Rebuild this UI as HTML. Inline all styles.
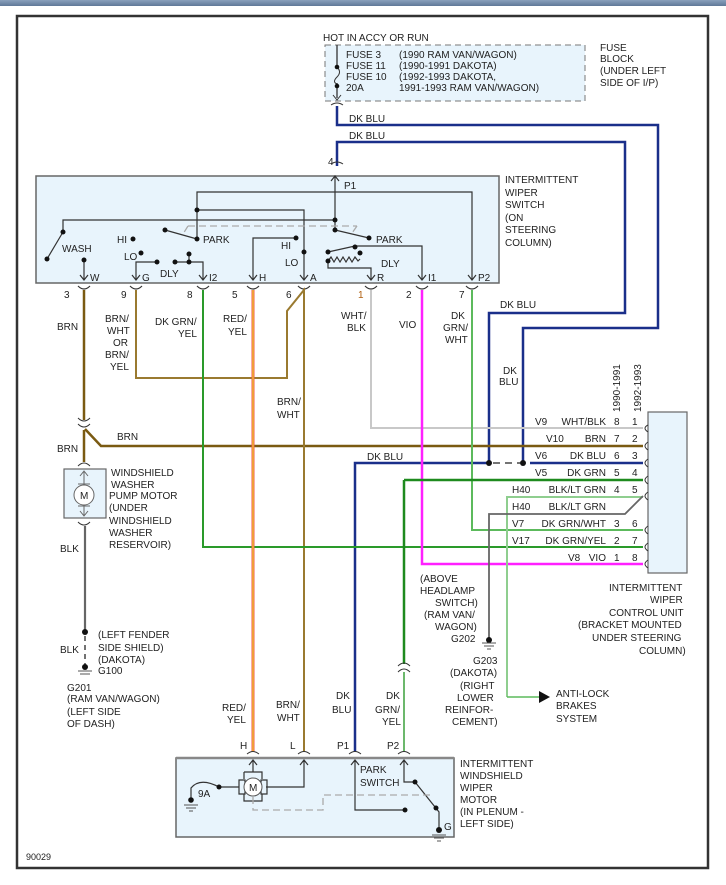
<!DOCTYPE html>
<html><head><meta charset="utf-8"><style>
html,body{margin:0;padding:0;background:#fff;}
svg{display:block;}
text{font-family:"Liberation Sans",sans-serif;font-size:10px;fill:#222;}
.e{text-anchor:end;}
</style></head><body>
<svg width="726" height="885" viewBox="0 0 726 885" xmlns="http://www.w3.org/2000/svg">
<defs><linearGradient id="tb" x1="0" y1="0" x2="0" y2="1"><stop offset="0" stop-color="#8aa0bc"/><stop offset="1" stop-color="#5f7898"/></linearGradient></defs>
<rect x="0" y="0" width="726" height="6" fill="url(#tb)"/>
<rect x="17" y="16" width="691" height="852" fill="none" stroke="#333" stroke-width="2.5"/>

<!-- fuse block -->
<text x="323" y="41">HOT IN ACCY OR RUN</text>
<rect x="325" y="45" width="260" height="56" fill="#e8f4fc" stroke="#777" stroke-dasharray="6,4"/>
<path d="M337 45 V65 M337 83 V98" stroke="#333" stroke-width="1.3" fill="none"/>
<path d="M337 67 Q342 72 337 77 Q332 82 337 84" stroke="#333" fill="none"/>
<circle cx="337" cy="67" r="2.3" fill="#111"/><circle cx="337" cy="86" r="2.3" fill="#111"/>
<path d="M333 95 L337 100 L341 95" stroke="#333" fill="none"/>
<path d="M331 105 Q337 101 343 105" stroke="#333" fill="none"/>
<text x="346" y="58">FUSE 3</text><text x="346" y="69">FUSE 11</text><text x="346" y="80">FUSE 10</text><text x="346" y="91">20A</text>
<text x="399" y="58">(1990 RAM VAN/WAGON)</text><text x="399" y="69">(1990-1991 DAKOTA)</text><text x="399" y="80">(1992-1993 DAKOTA,</text><text x="399" y="91">1991-1993 RAM VAN/WAGON)</text>
<text x="600" y="51">FUSE</text><text x="600" y="62">BLOCK</text><text x="600" y="74">(UNDER LEFT</text><text x="600" y="86">SIDE OF I/P)</text>

<!-- DK BLU feed wires -->
<g stroke="#1a2f8a" stroke-width="2.5" fill="none">
<path d="M337 106 V125 H658 V328 H523 V463"/>
<path d="M337 166 V142 H625 V313 H489 V463"/>
<path d="M355 752 V463 H489"/>
<path d="M530 463 H643"/>
</g>
<path d="M493 463 H520" stroke="#222" stroke-width="1.3" stroke-dasharray="7,5"/>
<circle cx="489" cy="463" r="3" fill="#111"/><circle cx="523" cy="463" r="3" fill="#111"/>
<text x="349" y="122">DK BLU</text><text x="349" y="139">DK BLU</text>
<text x="500" y="308">DK BLU</text><text x="503" y="374">DK</text><text x="499" y="385">BLU</text>
<text x="367" y="460">DK BLU</text>
<text x="328" y="165">4</text>
<path d="M331 164 Q337 160 343 164" stroke="#333" fill="none"/>

<!-- switch box -->
<rect x="36" y="176" width="463" height="107" fill="#e8f4fc" stroke="#666" stroke-width="1.5"/>
<text x="505" y="183">INTERMITTENT</text><text x="505" y="196">WIPER</text><text x="505" y="208">SWITCH</text><text x="505" y="221">(ON</text><text x="505" y="233">STEERING</text><text x="505" y="246">COLUMN)</text>
<g stroke="#333" stroke-width="1.2" fill="none">
<path d="M335 176 V220 H63 V232 M63 232 L47 259"/>
<path d="M331 181 L335 176 L339 181"/>
<path d="M197 239 V192 H472 V280"/>
<path d="M197 210 H304 V280"/>
<path d="M165 230 L197 239"/>
<path d="M335 220 V230 L369 238"/>
<path d="M84 262 V280"/>
<path d="M155 262 H136 V280"/>
<path d="M175 262 H203 V280 M189 254 V262"/>
<path d="M296 238 H253 V280"/>
<path d="M328 252 L355 246 H422 V280"/>
<path d="M328 261 l3 -4 l3 5 l3 -5 l3 5 l3 -5 l3 5 l3 -5 l3 5 l3 -5 l3 4 l2 -2"/>
<path d="M328 261 V268 H371 V280"/>
</g>
<path d="M188 226 H357 M188 226 L183 234 M357 226 L352 233" stroke="#aaa" stroke-width="1.3" stroke-dasharray="7,4" fill="none"/>
<g fill="#111">
<circle cx="335" cy="220" r="2.5"/><circle cx="63" cy="232" r="2.5"/><circle cx="47" cy="259" r="2.5"/>
<circle cx="197" cy="210" r="2.5"/><circle cx="197" cy="239" r="2.5"/><circle cx="165" cy="230" r="2.5"/>
<circle cx="335" cy="230" r="2.5"/><circle cx="369" cy="238" r="2.5"/>
<circle cx="84" cy="260" r="2.5"/><circle cx="133" cy="239" r="2.5"/><circle cx="141" cy="253" r="2.5"/>
<circle cx="157" cy="262" r="2.5"/><circle cx="175" cy="262" r="2.5"/><circle cx="189" cy="254" r="2.5"/><circle cx="189" cy="262" r="2.5"/>
<circle cx="296" cy="238" r="2.5"/><circle cx="304" cy="252" r="2.5"/>
<circle cx="328" cy="252" r="2.5"/><circle cx="355" cy="247" r="2.5"/><circle cx="360" cy="253" r="2.5"/><circle cx="328" cy="261" r="2.5"/>
</g>
<text x="344" y="189">P1</text>
<text x="62" y="252">WASH</text><text x="117" y="243">HI</text><text x="124" y="260">LO</text><text x="160" y="277">DLY</text>
<text x="203" y="243">PARK</text><text x="376" y="243">PARK</text><text x="281" y="249">HI</text><text x="285" y="266">LO</text><text x="381" y="267">DLY</text>
<g stroke="#333" stroke-width="1.2" fill="none">
<path d="M80 275 L84 280 L88 275 M132 275 L136 280 L140 275 M199 275 L203 280 L207 275 M249 275 L253 280 L257 275 M300 275 L304 280 L308 275 M367 275 L371 280 L375 275 M418 275 L422 280 L426 275 M468 275 L472 280 L476 275"/>
<path d="M78 286 Q84 292 90 286 M130 286 Q136 292 142 286 M197 286 Q203 292 209 286 M247 286 Q253 292 259 286 M298 286 Q304 292 310 286 M365 286 Q371 292 377 286 M416 286 Q422 292 428 286 M466 286 Q472 292 478 286"/>
</g>
<text x="90" y="281">W</text><text x="142" y="281">G</text><text x="209" y="281">I2</text><text x="259" y="281">H</text><text x="310" y="281">A</text><text x="377" y="281">R</text><text x="428" y="281">I1</text><text x="478" y="281">P2</text>
<text x="64" y="298">3</text><text x="121" y="298">9</text><text x="187" y="298">8</text><text x="232" y="298">5</text><text x="286" y="298">6</text><text x="358" y="298" style="fill:#b06010">1</text><text x="406" y="298">2</text><text x="459" y="298">7</text>

<!-- wires -->
<path d="M84 290 V420 M85 429 L101 446 H643" stroke="#7a5a12" stroke-width="2.5" fill="none"/>
<path d="M136 290 V378 H287 V311 L304 290 V752" stroke="#9a7a30" stroke-width="2" fill="none"/>
<path d="M203 290 V547 H643" stroke="#2a9a2a" stroke-width="2" fill="none"/>
<path d="M253 290 V752" stroke="#f05a50" stroke-width="3" fill="none"/>
<path d="M253 290 V752" stroke="#f0e020" stroke-width="1" fill="none"/>
<path d="M371 290 V428 H643" stroke="#c8c8c8" stroke-width="2" fill="none"/>
<path d="M422 290 V564 H643" stroke="#ff20ff" stroke-width="2.5" fill="none"/>
<path d="M472 290 V530 H643" stroke="#5cba5c" stroke-width="2" fill="none"/>
<path d="M404 480 H643 M404 480 V664" stroke="#1e8a1e" stroke-width="2.5" fill="none"/>
<path d="M404 672 V752" stroke="#3aa03a" stroke-width="1.5" fill="none"/>
<path d="M398 666 Q404 660 410 666 M398 672 Q404 666 410 672" stroke="#333" fill="none"/>
<path d="M507 697 V497 H643" stroke="#8fce8f" stroke-width="2" fill="none"/>
<path d="M489 638 V514 H625 L643 496" stroke="#666" stroke-width="1.8" fill="none"/>
<path d="M507 697 H540" stroke="#5cba5c" stroke-width="1.5" fill="none"/>
<path d="M539 691 L550 697 L539 703 Z" fill="#111"/>
<text x="556" y="697">ANTI-LOCK</text><text x="556" y="709">BRAKES</text><text x="556" y="722">SYSTEM</text>
<circle cx="489" cy="640" r="3" fill="#111"/>
<path d="M482 643 H496 M484 646 H494 M487 649 H491" stroke="#555" fill="none"/>

<text x="57" y="330">BRN</text>
<text x="105" y="322">BRN/</text><text x="107" y="334">WHT</text><text x="113" y="346">OR</text><text x="105" y="358">BRN/</text><text x="110" y="370">YEL</text>
<text x="155" y="325">DK GRN/</text><text x="178" y="337">YEL</text>
<text x="223" y="322">RED/</text><text x="228" y="335">YEL</text>
<text x="277" y="405">BRN/</text><text x="277" y="418">WHT</text>
<text x="341" y="319">WHT/</text><text x="347" y="331">BLK</text>
<text x="399" y="328">VIO</text>
<text x="451" y="319">DK</text><text x="443" y="331">GRN/</text><text x="445" y="343">WHT</text>

<!-- control unit -->
<rect x="648" y="412" width="39" height="161" fill="#e8f4fc" stroke="#666" stroke-width="1.2"/>
<g stroke="#333" fill="none">
<path d="M648 425 Q642 428 648 432 M648 442 Q642 446 648 450 M648 459 Q642 463 648 467 M648 476 Q642 480 648 484 M648 492 Q642 496 648 500 M648 526 Q642 530 648 534 M648 543 Q642 547 648 551 M648 560 Q642 564 648 568"/>
</g>
<text x="0" y="0" transform="translate(620,412) rotate(-90)">1990-1991</text>
<text x="0" y="0" transform="translate(641,412) rotate(-90)">1992-1993</text>
<g>
<text x="535" y="425">V9</text><text class="e" x="606" y="425">WHT/BLK</text><text x="614" y="425">8</text><text x="632" y="425">1</text>
<text x="546" y="442">V10</text><text class="e" x="606" y="442">BRN</text><text x="614" y="442">7</text><text x="632" y="442">2</text>
<text x="535" y="459">V6</text><text class="e" x="606" y="459">DK BLU</text><text x="614" y="459">6</text><text x="632" y="459">3</text>
<text x="535" y="476">V5</text><text class="e" x="606" y="476">DK GRN</text><text x="614" y="476">5</text><text x="632" y="476">4</text>
<text x="512" y="493">H40</text><text class="e" x="606" y="493">BLK/LT GRN</text><text x="614" y="493">4</text><text x="632" y="493">5</text>
<text x="512" y="510">H40</text><text class="e" x="606" y="510">BLK/LT GRN</text>
<text x="512" y="527">V7</text><text class="e" x="606" y="527">DK GRN/WHT</text><text x="614" y="527">3</text><text x="632" y="527">6</text>
<text x="512" y="544">V17</text><text class="e" x="606" y="544">DK GRN/YEL</text><text x="614" y="544">2</text><text x="632" y="544">7</text>
<text x="568" y="561">V8</text><text class="e" x="606" y="561">VIO</text><text x="614" y="561">1</text><text x="632" y="561">8</text>
</g>
<text x="609" y="591">INTERMITTENT</text><text x="650" y="603">WIPER</text><text x="609" y="616">CONTROL UNIT</text><text x="578" y="628">(BRACKET MOUNTED</text><text x="592" y="641">UNDER STEERING</text><text x="639" y="654">COLUMN)</text>
<text x="420" y="582">(ABOVE</text><text x="420" y="594">HEADLAMP</text><text x="435" y="606">SWITCH)</text><text x="424" y="618">(RAM VAN/</text><text x="435" y="630">WAGON)</text><text x="451" y="642">G202</text>
<text x="473" y="664">G203</text><text x="450" y="676">(DAKOTA)</text><text x="460" y="689">(RIGHT</text><text x="457" y="701">LOWER</text><text x="445" y="713">REINFOR-</text><text x="452" y="725">CEMENT)</text>

<!-- BRN label & washer -->
<text x="57" y="452">BRN</text><text x="117" y="440">BRN</text>
<path d="M78 418 Q84 424 90 418 M78 424 Q84 430 90 424" stroke="#333" fill="none"/>
<path d="M84 430 V462" stroke="#7a5a12" stroke-width="2.5"/>
<path d="M78 466 Q84 460 90 466" stroke="#333" fill="none"/>
<rect x="64" y="469" width="42" height="49" fill="#e8f4fc" stroke="#666" stroke-width="1.2"/>
<circle cx="84" cy="495" r="10" fill="#fff" stroke="#666"/><text x="80" y="499">M</text>
<path d="M84 472 V485 M84 505 V516 M80 476 L84 471 L88 476 M80 511 L84 516 L88 511 M78 484 h12 M78 506 h12" stroke="#666" fill="none"/>
<text x="111" y="476">WINDSHIELD</text><text x="111" y="488">WASHER</text><text x="109" y="499">PUMP MOTOR</text><text x="109" y="511">(UNDER</text><text x="109" y="524">WINDSHIELD</text><text x="109" y="536">WASHER</text><text x="109" y="548">RESERVOIR)</text>
<path d="M78 522 Q84 528 90 522" stroke="#333" fill="none"/>
<path d="M85 526 V632" stroke="#666" stroke-width="2.2"/>
<path d="M85 636 V665" stroke="#444" stroke-width="1.5" stroke-dasharray="5,4"/>
<circle cx="85" cy="632" r="3" fill="#111"/><circle cx="85" cy="667" r="3" fill="#111"/>
<path d="M78 671 H92 M80 674 H90" stroke="#555" fill="none"/>
<text x="60" y="552">BLK</text><text x="60" y="653">BLK</text>
<text x="98" y="638">(LEFT FENDER</text><text x="98" y="651">SIDE SHIELD)</text><text x="98" y="663">(DAKOTA)</text><text x="98" y="674">G100</text>
<text x="67" y="691">G201</text><text x="67" y="702">(RAM VAN/WAGON)</text><text x="67" y="715">(LEFT SIDE</text><text x="67" y="727">OF DASH)</text>

<!-- motor labels -->
<text x="222" y="711">RED/</text><text x="227" y="723">YEL</text>
<text x="276" y="708">BRN/</text><text x="277" y="721">WHT</text>
<text x="336" y="699">DK</text><text x="332" y="713">BLU</text>
<text x="386" y="699">DK</text><text x="375" y="713">GRN/</text><text x="382" y="725">YEL</text>
<text x="240" y="749">H</text><text x="290" y="749">L</text><text x="337" y="749">P1</text><text x="387" y="749">P2</text>
<path d="M247 754 Q253 749 259 754 M298 754 Q304 749 310 754 M349 754 Q355 749 361 754 M398 754 Q404 749 410 754" stroke="#333" fill="none"/>

<!-- wiper motor box -->
<rect x="176" y="758" width="278" height="79" fill="#e8f4fc" stroke="#666" stroke-width="1.5"/>
<path d="M176 758 H454" stroke="#888" stroke-width="2.5"/>
<g stroke="#333" stroke-width="1.2" fill="none">
<path d="M253 760 V772 M249 765 L253 760 L257 765"/>
<path d="M304 760 V787 H266 M300 765 L304 760 L308 765"/>
<path d="M355 760 V810 H405 M351 765 L355 760 L359 765"/>
<path d="M404 760 V782 H415 L439 812 V830 M400 765 L404 760 L408 765"/>
<path d="M191 799 V788 Q200 777 219 787 H239"/>
<path d="M244 772 h18 v7 M244 772 v7 M239 780 h6 v14 h-6 z M261 780 h6 v14 h-6 z M244 794 v7 h18 v-7"/>
</g>
<circle cx="253" cy="787" r="9" fill="#fff" stroke="#555"/><text x="249" y="791">M</text>
<path d="M253 797 V810 H323 V795 H432" stroke="#aaa" stroke-width="1.3" stroke-dasharray="7,4" fill="none"/>
<g fill="#111"><circle cx="191" cy="800" r="2.8"/><circle cx="219" cy="787" r="2.5"/><circle cx="405" cy="810" r="2.5"/><circle cx="415" cy="782" r="2.5"/><circle cx="436" cy="808" r="2.5"/><circle cx="439" cy="830" r="3"/></g>
<path d="M184 805 H198 M186 808 H196 M189 811 H193 M432 835 H446 M434 838 H444 M437 841 H441" stroke="#555" fill="none"/>
<text x="198" y="797">9A</text>
<text x="360" y="773">PARK</text><text x="360" y="786">SWITCH</text>
<text x="444" y="830">G</text>
<text x="460" y="767">INTERMITTENT</text><text x="460" y="779">WINDSHIELD</text><text x="460" y="791">WIPER</text><text x="460" y="803">MOTOR</text><text x="460" y="815">(IN PLENUM -</text><text x="460" y="827">LEFT SIDE)</text>
<text x="26" y="860" style="font-size:9px">90029</text>
</svg>
</body></html>
